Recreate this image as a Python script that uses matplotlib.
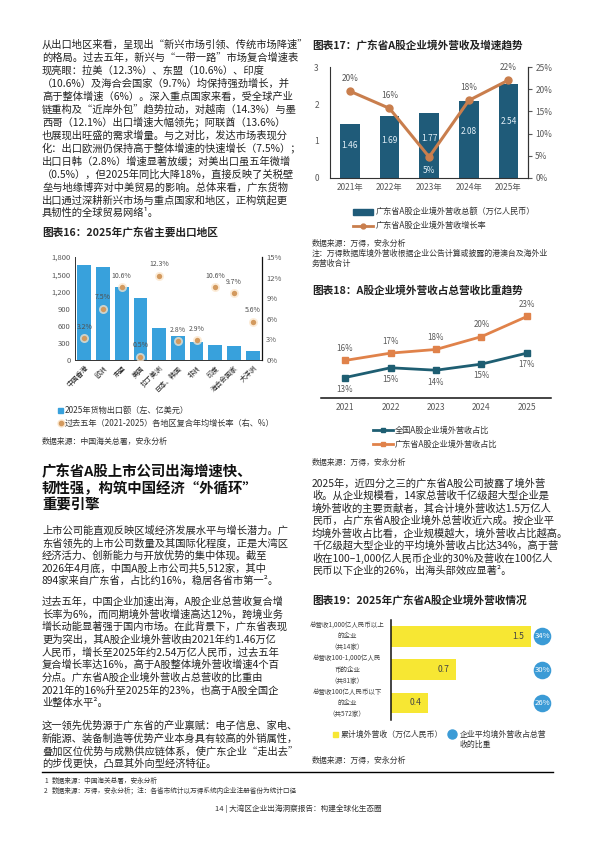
import matplotlib
matplotlib.use('Agg')
import matplotlib.pyplot as plt
from matplotlib.patches import Rectangle
from matplotlib.lines import Line2D
from matplotlib.transforms import blended_transform_factory
import numpy as np

plt.rcParams['font.family'] = ['Noto Sans CJK SC', 'DejaVu Sans']

# ---------------- data ----------------
c16_regions = ['中国香港', '欧洲', '东盟', '美国', '拉丁美洲', '日本、韩国', '非洲', '印度', '海合会国家', '大洋洲']
c16_exports = [1660, 1630, 1280, 1080, 565, 420, 318, 258, 247, 152]
c16_cagr = [3.2, 7.5, 10.6, 0.5, 12.3, 2.8, 2.9, 10.6, 9.7, 5.6]
c16_left_ticks = [0, 300, 600, 900, 1200, 1500, 1800]
c16_right_ticks = [0, 3, 6, 9, 12, 15]

c17_years = ['2021年', '2022年', '2023年', '2024年', '2025年']
c17_revenue = [1.46, 1.69, 1.77, 2.08, 2.54]
c17_growth = [19.6, 15.7, 4.7, 17.5, 22.1]
c17_left_ticks = [0, 1, 2, 3]
c17_right_ticks = [0, 5, 10, 15, 20, 25]

c18_years = ['2021', '2022', '2023', '2024', '2025']
c18_national = [13.0, 14.6, 14.2, 15.2, 17.0]
c18_guangdong = [15.8, 17.0, 17.6, 19.7, 23.0]

c19_groups = ['总营收1,000亿人民币以上\n的企业\n（共14家）',
              '总营收100-1,000亿人民\n币的企业\n（共81家）',
              '总营收100亿人民币以下\n的企业\n（共572家）']
c19_revenue = [1.5, 0.7, 0.4]
c19_share = [34, 30, 26]

# ---------------- page helpers ----------------
W, H = 596, 842
fig = plt.figure(figsize=(W / 100, H / 100), dpi=100)
fig.patch.set_facecolor('white')

TXT = '#222222'
GRAY = '#595959'


def fx(x):
    return x / W


def fy(y):
    return 1 - y / H


def axes_px(x0, y0, x1, y1):
    return fig.add_axes([x0 / W, 1 - y1 / H, (x1 - x0) / W, (y1 - y0) / H])


def txt(x, y, s, size=7.4, **kw):
    kw.setdefault('va', 'center')
    kw.setdefault('ha', 'left')
    kw.setdefault('color', TXT)
    fig.text(fx(x), fy(y), s, fontsize=size, **kw)


def para(x, y0, dy, lines, size=7.4, **kw):
    for i, s in enumerate(lines):
        txt(x, y0 + i * dy, s, size, **kw)


def rect_px(x, y, w, h, color):
    fig.add_artist(Rectangle((fx(x), fy(y + h)), w / W, h / H, color=color,
                             transform=fig.transFigure))


def line_px(x0, x1, y, color, lw, marker=None, ms=4):
    fig.add_artist(Line2D([fx(x0), fx(x1)], [fy(y), fy(y)], color=color, lw=lw,
                          transform=fig.transFigure))
    if marker:
        fig.add_artist(Line2D([fx((x0 + x1) / 2)], [fy(y)], color=color, marker=marker,
                              ms=ms, lw=0, transform=fig.transFigure))


# ---------------- left column text ----------------
LX = 42
para(LX, 44.5, 12.98, [
    '从出口地区来看，呈现出“新兴市场引领、传统市场降速”',
    '的格局。过去五年，新兴与“一带一路”市场复合增速表',
    '现亮眼：拉美（12.3%）、东盟（10.6%）、印度',
    '（10.6%）及海合会国家（9.7%）均保持强劲增长，并',
    '高于整体增速（6%）。深入重点国家来看，受全球产业',
    '链重构及“近岸外包”趋势拉动，对越南（14.3%）与墨',
    '西哥（12.1%）出口增速大幅领先；阿联酋（13.6%）',
    '也展现出旺盛的需求增量。与之对比，发达市场表现分',
    '化：出口欧洲仍保持高于整体增速的快速增长（7.5%）；',
    '出口日韩（2.8%）增速显著放缓；对美出口虽五年微增',
    '（0.5%），但2025年同比大降18%，直接反映了关税壁',
    '垒与地缘博弈对中美贸易的影响。总体来看，广东货物',
    '出口通过深耕新兴市场与重点国家和地区，正构筑起更',
    '具韧性的全球贸易网络¹。',
])

txt(LX, 232.5, '图表16：2025年广东省主要出口地区', 7.7, weight='bold')

para(LX, 471.5, 16.8, [
    '广东省A股上市公司出海增速快、',
    '韧性强，构筑中国经济“外循环”',
    '重要引擎',
], 10.4, weight='bold', color='#111111')

para(LX, 530.5, 12.65, [
    '上市公司能直观反映区域经济发展水平与增长潜力。广',
    '东省领先的上市公司数量及其国际化程度，正是大湾区',
    '经济活力、创新能力与开放优势的集中体现。截至',
    '2026年4月底，中国A股上市公司共5,512家，其中',
    '894家来自广东省，占比约16%，稳居各省市第一²。',
])

para(LX, 601.5, 12.72, [
    '过去五年，中国企业加速出海，A股企业总营收复合增',
    '长率为6%，而同期境外营收增速高达12%，跨境业务',
    '增长动能显著强于国内市场。在此背景下，广东省表现',
    '更为突出，其A股企业境外营收由2021年约1.46万亿',
    '人民币，增长至2025年约2.54万亿人民币，过去五年',
    '复合增长率达16%，高于A股整体境外营收增速4个百',
    '分点。广东省A股企业境外营收占总营收的比重由',
    '2021年的16%升至2025年的23%，也高于A股全国企',
    '业整体水平²。',
])

para(LX, 726, 12.7, [
    '这一领先优势源于广东省的产业禀赋：电子信息、家电、',
    '新能源、装备制造等优势产业本身具有较高的外销属性，',
    '叠加区位优势与成熟供应链体系，使广东企业“走出去”',
    '的步伐更快，凸显其外向型经济特征。',
])

# ---------------- right column text ----------------
RX = 312
txt(RX, 45, '图表17：广东省A股企业境外营收及增速趋势', 7.7, weight='bold')
txt(RX, 290, '图表18：A股企业境外营收占总营收比重趋势', 7.7, weight='bold')
para(RX, 483.3, 12.5, [
    '2025年，近四分之三的广东省A股公司披露了境外营',
    '收。从企业规模看，14家总营收千亿级超大型企业是',
    '境外营收的主要贡献者，其合计境外营收达1.5万亿人',
    '民币，占广东省A股企业境外总营收近六成。按企业平',
    '均境外营收占比看，企业规模越大，境外营收占比越高。',
    '千亿级超大型企业的平均境外营收占比达34%，高于营',
    '收在100–1,000亿人民币企业的30%及营收在100亿人',
    '民币以下企业的26%，出海头部效应显著²。',
])
txt(RX, 600.7, '图表19：2025年广东省A股企业境外营收情况', 7.7, weight='bold')

# ---------------- footer ----------------
fig.add_artist(Line2D([fx(42), fx(553)], [fy(771.7), fy(771.7)], color='black', lw=1.0,
                      transform=fig.transFigure))
txt(44, 781, '1', 4.8, color='#333333')
txt(52, 781, '数据来源：中国海关总署，安永分析', 4.8, color='#333333')
txt(44, 791, '2', 4.8, color='#333333')
txt(52, 791, '数据来源：万得，安永分析；注：各省市统计以万得系统内企业注册省份为统计口径', 4.8, color='#333333')
txt(298, 809, '14 | 大湾区企业出海洞察报告：构建全球化生态圈', 5.5, ha='center', color='#333333')

# ---------------- chart 16 ----------------
BLUE16 = '#38a1dc'
DOT16 = '#d39a5f'
HALO16 = '#fbe6cc'
ax = axes_px(75, 257, 262, 360)
x = np.arange(len(c16_regions))
ax.bar(x, c16_exports, width=0.74, color=BLUE16, zorder=2)
ax.set_xlim(-0.5, len(c16_regions) - 0.5)
ax.set_ylim(0, 1800)
ax.set_yticks(c16_left_ticks)
ax.set_yticklabels([f'{v:,}' for v in c16_left_ticks])
ax.tick_params(axis='y', length=0, labelsize=5.5, colors=GRAY, pad=3)
ax.set_xticks(x)
ax.set_xticklabels(c16_regions, rotation=45, ha='right', rotation_mode='anchor', fontsize=4.9)
ax.tick_params(axis='x', length=0, pad=3, colors=TXT)
ax.spines['top'].set_visible(False)
for s in ['left', 'bottom', 'right']:
    ax.spines[s].set_linewidth(0.7)
    ax.spines[s].set_color('#333333')
ax2 = ax.twinx()
ax2.set_ylim(0, 15)
ax2.set_yticks(c16_right_ticks)
ax2.set_yticklabels([f'{v}%' for v in c16_right_ticks])
ax2.tick_params(axis='y', length=0, labelsize=5.5, colors=GRAY, pad=3)
ax2.spines['top'].set_visible(False)
ax2.spines['right'].set_linewidth(0.9)
ax2.spines['right'].set_color('#111111')
ax2.spines['left'].set_visible(False)
ax2.spines['bottom'].set_visible(False)
ax2.scatter(x, c16_cagr, s=42, color=HALO16, alpha=0.75, zorder=3, lw=0)
ax2.scatter(x, c16_cagr, s=15, color=DOT16, zorder=4, lw=0)
for xi, v in zip(x, c16_cagr):
    ax2.annotate(f'{v}%', (xi, v), xytext=(0, 8), textcoords='offset points',
                 ha='center', va='center', fontsize=5.0, color='#505050', zorder=5)

# legend 16
rect_px(58, 407.5, 5, 5, BLUE16)
txt(65, 410, '2025年货物出口额（左、亿美元）', 5.9, color='#333333')
fig.add_artist(Line2D([fx(60.5)], [fy(423)], marker='o', ms=5, color=HALO16, lw=0,
                      transform=fig.transFigure))
fig.add_artist(Line2D([fx(60.5)], [fy(423)], marker='o', ms=3, color=DOT16, lw=0,
                      transform=fig.transFigure))
txt(65, 423, '过去五年（2021-2025）各地区复合年均增长率（右、%）', 5.9, color='#333333')
txt(LX, 441.7, '数据来源：中国海关总署，安永分析', 5.7, color='#333333')

# ---------------- chart 17 ----------------
BAR17 = '#1f5b79'
LINE17 = '#c97e4d'
ax = axes_px(330, 67.3, 528.3, 177.7)
x = np.arange(len(c17_years))
ax.bar(x, c17_revenue, width=0.5, color=BAR17, zorder=2)
ax.set_xlim(-0.5, len(c17_years) - 0.5)
ax.set_ylim(0, 3)
ax.set_yticks(c17_left_ticks)
ax.tick_params(axis='y', length=0, labelsize=6.0, colors=GRAY, pad=8)
ax.set_xticks(x)
ax.set_xticklabels(c17_years, fontsize=6.0, color=GRAY)
ax.tick_params(axis='x', length=0, pad=4)
ax.spines['top'].set_visible(False)
for s in ['left', 'bottom', 'right']:
    ax.spines[s].set_linewidth(0.8)
    ax.spines[s].set_color('#333333')
for xi, v in zip(x, c17_revenue):
    ax.text(xi, v * 0.6, f'{v:.2f}', ha='center', va='center', fontsize=6.0,
            color='#e3f0f8', zorder=3)
ax2 = ax.twinx()
ax2.set_ylim(0, 25)
ax2.set_yticks(c17_right_ticks)
ax2.set_yticklabels([f'{v}%' for v in c17_right_ticks])
ax2.tick_params(axis='y', length=3, width=0.8, labelsize=6.0, colors=GRAY, pad=2)
for s in ['top', 'left', 'bottom']:
    ax2.spines[s].set_visible(False)
ax2.spines['right'].set_linewidth(0.8)
ax2.spines['right'].set_color('#333333')
ax2.plot(x, c17_growth, color=LINE17, lw=2.2, marker='o', ms=5, zorder=4)
for xi, v in zip(x, c17_growth):
    below = v < 10
    ax2.annotate(f'{round(v)}%', (xi, v), xytext=(0, -10 if below else 9),
                 textcoords='offset points', ha='center', va='center', fontsize=6.0,
                 color='#e3f0f8' if below else GRAY, zorder=5)

rect_px(353, 208.5, 20, 6.5, BAR17)
txt(376, 211.7, '广东省A股企业境外营收总额（万亿人民币）', 5.9, color='#333333')
line_px(353, 373, 225.7, LINE17, 2.0, marker='o', ms=3.5)
txt(376, 225.7, '广东省A股企业境外营收增长率', 5.9, color='#333333')
para(RX, 243, 10, [
    '数据来源：万得，安永分析',
    '注：万得数据库境外营收根据企业公告计算或披露的港澳台及海外业',
    '务营收合计',
], 5.7, color='#333333')

# ---------------- chart 18 ----------------
TEAL18 = '#1e5e72'
ORANGE18 = '#e0824a'
ax = axes_px(321, 300, 551, 398.3)
x = np.arange(len(c18_years))
ax.plot(x, c18_national, color=TEAL18, lw=2.0, marker='s', ms=4.5, zorder=3)
ax.plot(x, c18_guangdong, color=ORANGE18, lw=2.0, marker='s', ms=4.5, zorder=3)
ax.set_xlim(-0.53, len(c18_years) - 0.47)
ax.set_ylim(9.6, 25.7)
ax.set_yticks([])
ax.set_xticks(x)
ax.set_xticklabels(c18_years, fontsize=6.1, color=GRAY)
ax.tick_params(axis='x', length=0, pad=3.5)
for s in ['top', 'left', 'right']:
    ax.spines[s].set_visible(False)
ax.spines['bottom'].set_linewidth(1.1)
ax.spines['bottom'].set_color('#111111')
for xi, v in zip(x, c18_national):
    ax.annotate(f'{round(v)}%', (xi, v), xytext=(0, -8.5), textcoords='offset points',
                ha='center', va='center', fontsize=5.8, color=GRAY)
for xi, v in zip(x, c18_guangdong):
    ax.annotate(f'{round(v)}%', (xi, v), xytext=(0, 8.5), textcoords='offset points',
                ha='center', va='center', fontsize=5.8, color=GRAY)

line_px(373, 393, 430, TEAL18, 2.0, marker='s', ms=3.5)
txt(395, 430, '全国A股企业境外营收占比', 5.9, color='#333333')
line_px(373, 393, 444.3, ORANGE18, 2.0, marker='s', ms=3.5)
txt(395, 444.3, '广东省A股企业境外营收占比', 5.9, color='#333333')
txt(RX, 462.7, '数据来源：万得，安永分析', 5.7, color='#333333')

# ---------------- chart 19 ----------------
YEL19 = '#f7e733'
BLUE19 = '#3b9bd6'
ax = axes_px(391, 619.6, 560, 719.6)
y = np.arange(len(c19_groups))
ax.barh(y, c19_revenue, height=0.62, color=YEL19, zorder=2)
ax.set_ylim(len(c19_groups) - 0.5, -0.5)
ax.set_xlim(0, 169 / 93.3)
ax.set_xticks([])
ax.set_yticks([])
for s in ['top', 'right', 'bottom']:
    ax.spines[s].set_visible(False)
ax.spines['left'].set_linewidth(1.1)
ax.spines['left'].set_color('#111111')
for yi, v in zip(y, c19_revenue):
    ax.annotate(f'{v}', (v, yi), xytext=(-5, 0), textcoords='offset points',
                ha='right', va='center', fontsize=6.2, color='#444444')
trans = blended_transform_factory(ax.transAxes, ax.transData)
ax.scatter([0.895] * len(y), y, s=160, color=BLUE19, transform=trans, clip_on=False,
           zorder=3, lw=0)
for yi, v in zip(y, c19_share):
    ax.text(0.895, yi, f'{v}%', transform=trans, ha='center', va='center', fontsize=5.6,
            color='white', zorder=4)
for yi, s in zip(y, c19_groups):
    ax.text(-0.26, yi, s, transform=trans, ha='center', va='center', fontsize=4.7,
            color='#404040', multialignment='center', linespacing=1.5)

rect_px(333, 731.5, 5, 5, YEL19)
txt(341, 734, '累计境外营收（万亿人民币）', 5.7, color='#333333')
fig.add_artist(Line2D([fx(451.7)], [fy(734)], marker='o', ms=6.5, color=BLUE19, lw=0,
                      transform=fig.transFigure))
txt(460, 734, '企业平均境外营收占总营', 5.7, color='#333333')
txt(460, 744, '收的比重', 5.7, color='#333333')
txt(RX, 760.7, '数据来源：万得，安永分析', 5.7, color='#333333')

fig.savefig('out.png', dpi=100, facecolor='white')
